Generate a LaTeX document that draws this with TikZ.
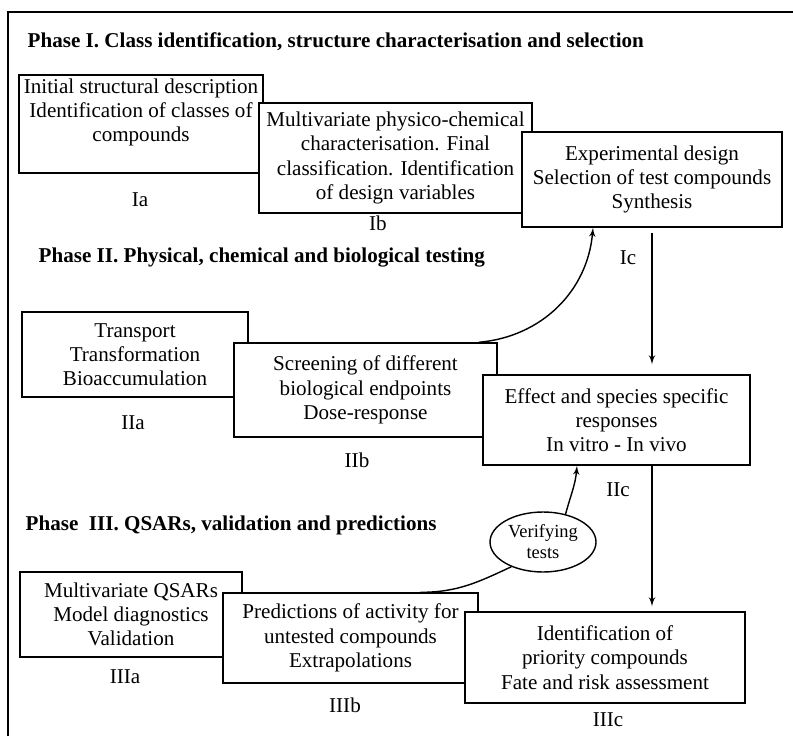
\documentclass[tikz,border=0pt]{standalone}
\usepackage{fontspec}
\setmainfont{Liberation Serif}
\usetikzlibrary{arrows,positioning,shapes.geometric}
\tikzstyle{stage}=[draw, fill=white, align=center, inner sep=2pt, font=\fontsize{12}{13.8}\selectfont]
\tikzstyle{phase}=[anchor=west, inner sep=0pt, font=\fontsize{12}{14}\selectfont\bfseries]
\tikzstyle{tag}=[inner sep=0pt, font=\fontsize{12}{14}\selectfont]
\tikzstyle{check}=[draw, ellipse, fill=white, align=center, inner sep=0pt, font=\fontsize{10.5}{12}\selectfont]

\begin{document}
\begin{tikzpicture}[x=0.02cm,y=-0.02cm,>=latex',line width=0.8pt]
    \useasboundingbox (0,0) rectangle (793,736);
    \draw (8,736) -- (8,12) -- (793,12);
    % Phase I
    \node [phase] (p1) at (27,42) {Phase I. Class identification, structure characterisation and selection};
    \node [stage, minimum width=4.88cm, minimum height=1.96cm, text depth=0.55cm] (ia) at (141,124) {Initial structural description\\Identification of classes of\\compounds};
    \node [stage, minimum width=5.46cm, minimum height=2.2cm] (ib) at (395.5,158) {Multivariate physico-chemical\\characterisation. Final\\classification. Identification\\of design variables};
    \node [stage, minimum width=5.2cm, minimum height=1.9cm] (ic) at (652,179.5) {Experimental design\\Selection of test compounds\\Synthesis};
    \node [tag] (ia-t) at (140,200) {Ia};
    \node [tag] (ib-t) at (378,223) {Ib};
    \node [tag] (ic-t) at (628,258) {Ic};
    % Phase II
    \node [phase] (p2) at (38,258) {Phase II. Physical, chemical and biological testing};
    \node [stage, minimum width=4.52cm, minimum height=1.7cm] (iia) at (135,354.5) {Transport\\Transformation\\Bioaccumulation};
    \node [stage, minimum width=5.26cm, minimum height=1.88cm] (iib) at (365.5,390) {Screening of different\\biological endpoints\\Dose-response};
    \node [stage, minimum width=5.34cm, minimum height=1.8cm] (iic) at (616.5,420) {Effect and species specific\\responses\\In vitro - In vivo};
    \node [tag] (iia-t) at (133,423) {IIa};
    \node [tag] (iib-t) at (357,460) {IIb};
    \node [tag] (iic-t) at (618,490) {IIc};
    % Phase III
    \node [phase] (p3) at (25,525) {Phase\ \ III. QSARs, validation and predictions};
    \node [stage, minimum width=4.44cm, minimum height=1.7cm] (iiia) at (131,614.5) {Multivariate QSARs\\Model diagnostics\\Validation};
    \node [stage, minimum width=5.1cm, minimum height=1.8cm] (iiib) at (350.5,638) {Predictions of activity for\\untested compounds\\Extrapolations};
    \node [stage, minimum width=5.6cm, minimum height=1.82cm] (iiic) at (605,657.5) {Identification of\\priority compounds\\Fate and risk assessment};
    \node [tag] (iiia-t) at (125,677) {IIIa};
    \node [tag] (iiib-t) at (345,705) {IIIb};
    \node [tag] (iiic-t) at (608,720) {IIIc};
    \node [check, minimum width=2.12cm, minimum height=1.2cm] (ver) at (543,542) {Verifying\\tests};
    % connectors
    \draw[->, shorten <=0.1cm, shorten >=0.2cm] (ic.south) -- (ic.south |- iic.north);
    \draw[->, shorten >=0.1cm] (iic.south -| ic.south) -- (ic.south |- iiic.north);
    \draw[->] ([xshift=-0.38cm]iib.north east) to[out=5,in=-95] ([xshift=-1.18cm]ic.south);
    \draw[->] (ver.51) to[out=75,in=-95] ([xshift=-0.79cm]iic.south);
    \draw (ver.218) to[out=205,in=0] ([xshift=1.4cm]iiib.north);
\end{tikzpicture}
\end{document}
